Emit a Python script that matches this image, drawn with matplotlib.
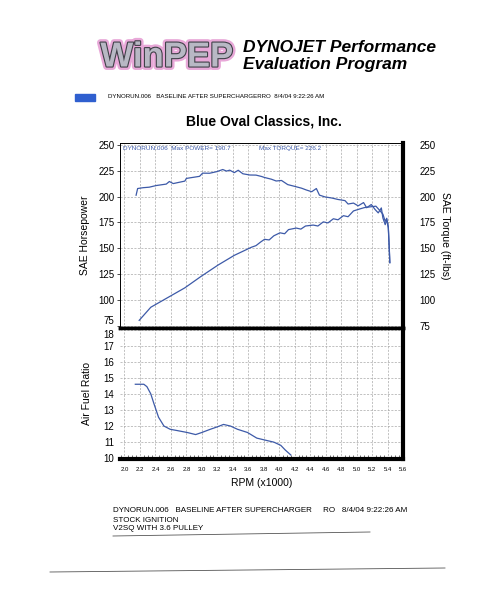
import numpy as np
import matplotlib
matplotlib.use("Agg")
from matplotlib import pyplot as plt
from matplotlib import patheffects as pe
from matplotlib.ticker import MultipleLocator

plt.rcParams['font.family'] = ['Liberation Sans', 'DejaVu Sans']

# Torque (ft-lbs) vs RPM (x1000)
rpm_tq = [2.15, 2.17, 2.24, 2.32, 2.41, 2.54, 2.58, 2.63, 2.78, 2.80, 2.97, 3.01,
          3.10, 3.19, 3.27, 3.32, 3.36, 3.42, 3.47, 3.53, 3.62, 3.70, 3.77, 3.81,
          3.90, 3.96, 4.03, 4.11, 4.20, 4.29, 4.35, 4.42, 4.48, 4.52, 4.59, 4.68,
          4.76, 4.85, 4.89, 4.96, 5.02, 5.09, 5.13, 5.19, 5.24, 5.28, 5.32, 5.34,
          5.37, 5.39, 5.41, 5.42, 5.43]
torque = [201.3, 207.8, 208.6, 209.1, 210.7, 212.1, 214.6, 212.6, 215.0, 217.6,
          219.6, 222.7, 222.6, 224.1, 226.2, 224.7, 225.6, 223.2, 225.5, 222.1,
          220.9, 220.8, 219.5, 218.5, 216.8, 215.1, 215.6, 211.6, 209.9, 208.1,
          206.4, 204.7, 207.8, 201.4, 199.7, 198.6, 197.2, 196.1, 192.8, 193.7,
          191.0, 194.2, 189.2, 192.3, 187.4, 184.2, 189.0, 179.3, 172.8, 177.6,
          169.5, 153.3, 136.0]

# Horsepower vs RPM (x1000)
rpm_hp = [2.19, 2.34, 2.56, 2.78, 2.99, 3.21, 3.42, 3.64, 3.70, 3.76, 3.81, 3.87,
          3.93, 4.01, 4.07, 4.12, 4.22, 4.28, 4.34, 4.44, 4.50, 4.57, 4.63, 4.70,
          4.76, 4.83, 4.89, 4.96, 5.04, 5.10, 5.17, 5.25, 5.30, 5.34, 5.37, 5.39,
          5.41, 5.42, 5.43]
hp = [80.1, 92.8, 102.2, 111.6, 122.7, 133.7, 143.1, 150.9, 152.5, 156.0, 158.6,
      158.0, 162.0, 164.9, 164.0, 168.0, 169.5, 168.5, 171.5, 172.4, 171.5, 175.5,
      174.5, 178.5, 177.5, 181.5, 180.5, 186.1, 188.0, 189.3, 190.0, 190.7, 186.5,
      183.0, 176.0, 179.0, 171.0, 155.0, 136.0]

# Air fuel ratio vs RPM (x1000)
rpm_afr = [2.14, 2.25, 2.29, 2.34, 2.38, 2.44, 2.51, 2.59, 2.68, 2.81, 2.92, 3.00,
           3.11, 3.20, 3.28, 3.37, 3.46, 3.59, 3.71, 3.84, 3.93, 4.02, 4.08, 4.15]
afr = [14.6, 14.6, 14.45, 14.0, 13.4, 12.55, 12.0, 11.8, 11.72, 11.6, 11.47, 11.6,
       11.8, 11.95, 12.1, 12.0, 11.8, 11.6, 11.25, 11.1, 11.0, 10.8, 10.5, 10.2]

hp_ticks = [75, 100, 125, 150, 175, 200, 225, 250]
afr_ticks = [10, 11, 12, 13, 14, 15, 16, 17, 18]
rpm_ticks = np.arange(2.0, 5.61, 0.2)

W, H = 494, 616
blue = '#3d5aa8'
grid_kw = dict(color='#a8a8a8', lw=0.5, ls=(0, (3, 2)))

fig = plt.figure(figsize=(W / 100, H / 100), dpi=100)


def box(l, t, r, b):
    return [l / W, 1 - b / H, (r - l) / W, (b - t) / H]


# upper: power and torque
ax = fig.add_axes(box(120, 143, 403, 328))
ax.plot(rpm_tq, torque, color=blue, lw=0.9)
ax.plot(rpm_hp, hp, color=blue, lw=0.9)
ax.set_xlim(1.942, 5.6)
ax.set_ylim(72.7, 251.9)
ax.set_xticks(rpm_ticks)
ax.set_xticklabels([])
ax.set_yticks(hp_ticks)
ax.tick_params(axis='x', length=0)
ax.tick_params(axis='y', length=2, width=0.5, labelsize=7, pad=2)
ax.get_yticklabels()[0].set_va('bottom')
ax.grid(True, **grid_kw)
ax.set_ylabel('SAE Horsepower', fontsize=7.5, labelpad=6)
for side in ['left', 'top']:
    ax.spines[side].set_linewidth(0.7)
ax.spines['right'].set_linewidth(3)
ax.spines['bottom'].set_linewidth(2.5)
ax.text(0.01, 0.985, 'DYNORUN.006  Max POWER= 190.7', transform=ax.transAxes,
        fontsize=4.6, color=blue, va='top')
ax.text(0.49, 0.985, 'Max TORQUE= 226.2', transform=ax.transAxes,
        fontsize=4.6, color=blue, va='top')

ax2 = ax.twinx()
ax2.set_ylim(ax.get_ylim())
ax2.set_yticks(hp_ticks)
ax2.tick_params(axis='y', length=0, labelsize=7, pad=12)
ax2.set_ylabel('SAE Torque (ft-lbs)', fontsize=7.5, rotation=-90, labelpad=10)
for side in ['left', 'top', 'bottom', 'right']:
    ax2.spines[side].set_visible(False)

# lower: air fuel ratio
axb = fig.add_axes(box(120, 328, 403, 459))
axb.plot(rpm_afr, afr, color=blue, lw=0.9)
axb.set_xlim(1.942, 5.6)
axb.set_ylim(9.95, 18.1)
axb.set_xticks(rpm_ticks)
axb.set_xticklabels([f'{v:.1f}' for v in rpm_ticks])
axb.xaxis.set_minor_locator(MultipleLocator(0.05))
axb.set_yticks(afr_ticks)
axb.tick_params(axis='x', which='major', length=0, labelsize=4.3, pad=6)
axb.tick_params(axis='x', which='minor', direction='in', length=3, width=0.4)
axb.tick_params(axis='y', length=0, labelsize=7, pad=4)
axb.get_yticklabels()[-1].set_va('top')
axb.grid(True, **grid_kw)
axb.set_ylabel('Air Fuel Ratio', fontsize=7.5, labelpad=8)
axb.set_xlabel('RPM (x1000)', fontsize=7.5, labelpad=4)
axb.spines['left'].set_visible(False)
axb.spines['top'].set_linewidth(2.5)
axb.spines['right'].set_linewidth(3)
axb.spines['bottom'].set_linewidth(3)

# header
fig.text(167 / W, 1 - 57 / H, 'WinPEP', fontsize=25, fontweight='bold',
         color='#b8b8c4', ha='center', va='center',
         path_effects=[pe.withStroke(linewidth=5, foreground='#e8a8d8'),
                       pe.withStroke(linewidth=1.6, foreground='#404048')])
fig.text(243 / W, 1 - 47 / H, 'DYNOJET Performance', fontsize=12.5,
         fontweight='bold', style='italic', va='center')
fig.text(243 / W, 1 - 65 / H, 'Evaluation Program', fontsize=12.5,
         fontweight='bold', style='italic', va='center')
fig.patches.append(plt.Rectangle((75 / W, 1 - 101 / H), 20 / W, 7 / H,
                                 transform=fig.transFigure, color='#2f5fcf'))
fig.text(108 / W, 1 - 97 / H,
         'DYNORUN.006   BASELINE AFTER SUPERCHARGERRO  8/4/04 9:22:26 AM',
         fontsize=4.4, va='center')
fig.text(264 / W, 1 - 122 / H, 'Blue Oval Classics, Inc.', fontsize=10,
         fontweight='bold', ha='center', va='center')

# footer
fig.text(113 / W, 1 - 511 / H,
         'DYNORUN.006   BASELINE AFTER SUPERCHARGER     RO   8/4/04 9:22:26 AM',
         fontsize=5.8, va='center')
fig.text(113 / W, 1 - 520 / H, 'STOCK IGNITION', fontsize=5.8, va='center')
fig.text(113 / W, 1 - 529 / H, 'V2SQ WITH 3.6 PULLEY', fontsize=5.8, va='center')
fig.add_artist(plt.Line2D([113 / W, 370 / W], [1 - 536 / H, 1 - 532 / H],
                          color='#555555', lw=0.6))
fig.add_artist(plt.Line2D([50 / W, 445 / W], [1 - 572 / H, 1 - 568 / H],
                          color='#555555', lw=0.6))

fig.savefig('out.png', dpi=100)
